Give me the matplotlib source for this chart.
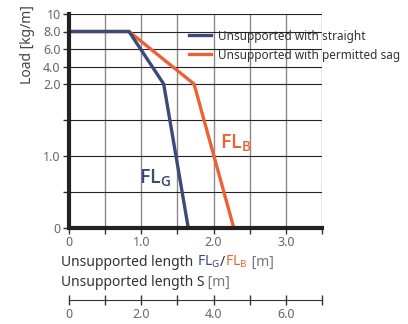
import numpy as np
import matplotlib.pyplot as plt
from matplotlib.offsetbox import TextArea, HPacker, AnchoredOffsetbox

plt.rcParams['font.family'] = ['Noto Sans', 'DejaVu Sans']

# curve data
fl_g_x = [0, 0.83, 1.31, 1.65]
fl_g_y = [8.0, 8.0, 2.0, 0]
fl_b_x = [0, 0.83, 1.73, 2.28]
fl_b_y = [8.0, 8.0, 2.0, 0]

y_ticks = [0, 0.5, 1.0, 1.5, 2.0, 4.0, 6.0, 8.0, 10]
y_labels = ['0', '', '1.0', '', '2.0', '4.0', '6.0', '8.0', '10']
x_ticks = [0, 0.5, 1.0, 1.5, 2.0, 2.5, 3.0, 3.5]
x_labels = ['0', '', '1.0', '', '2.0', '', '3.0', '']
s_ticks = [0, 1, 2, 3, 4, 5, 6, 7]
s_labels = ['0', '', '2.0', '', '4.0', '', '6.0', '']

blue = '#3b4a78'
orange = '#ec6234'
dark = '#333333'
grey = '#666666'

# piecewise y scale: 0-2 linear, above 2 compressed
k = 8.75 / 72


def fwd(y):
    y = np.asarray(y, dtype=float)
    return np.where(y <= 2, y, 2 + (y - 2) * k)


def inv(v):
    v = np.asarray(v, dtype=float)
    return np.where(v <= 2, v, 2 + (v - 2) / k)


fig = plt.figure(figsize=(4.08, 3.24), dpi=100)
ax = fig.add_axes([69/408, 1 - 228/324, (322 - 69)/408, (228 - 14)/324])
ax.set_yscale('function', functions=(fwd, inv))
ax.set_xlim(0, 3.5)
ax.set_ylim(0, 10)

# grid
for x in x_ticks[1:]:
    ax.axvline(x, color='#8a8a8a', lw=1.0, zorder=1)
for y in y_ticks[1:]:
    ax.axhline(y, color='#222222', lw=0.8, zorder=1)

ax.plot(fl_b_x, fl_b_y, color=orange, lw=2.4, zorder=3, solid_joinstyle='miter',
        label='Unsupported with permitted sag')
ax.plot(fl_g_x, fl_g_y, color=blue, lw=2.4, zorder=4, solid_joinstyle='miter',
        label='Unsupported with straight')

for s in ['top', 'right']:
    ax.spines[s].set_visible(False)
for s in ['left', 'bottom']:
    ax.spines[s].set_linewidth(3)
    ax.spines[s].set_color('#222222')
    ax.spines[s].set_zorder(5)

ax.set_yticks(y_ticks)
ax.set_yticklabels(y_labels)
ax.set_xticks(x_ticks)
ax.set_xticklabels(x_labels)
ax.tick_params(axis='both', colors='#333333', labelcolor=grey, labelsize=9,
               length=4, width=1, pad=2)
ax.yaxis.set_minor_locator(plt.NullLocator())

ax.set_ylabel('Load [kg/m]', color='#444444', fontsize=10)
ax.yaxis.set_label_coords(-0.135, 0.855)

fl_font = dict(fontsize=14, fontweight='semibold', family=['Open Sans', 'DejaVu Sans'])
ax.text(0.97, 0.62, r'FL$_\mathregular{G}$', color=blue, **fl_font)
ax.text(2.09, 1.1, r'FL$_\mathregular{B}$', color=orange, **fl_font)

h, l = ax.get_legend_handles_labels()
ax.legend(h[::-1], l[::-1], loc='upper left', bbox_to_anchor=(178/408, 1 - 19/324),
          bbox_transform=fig.transFigure, frameon=False, fontsize=8.5,
          handlelength=1.9, handletextpad=0.55, labelspacing=0.5, labelcolor=dark)

# x label with coloured parts
parts = [('Unsupported length ', dark), (r'FL$_\mathregular{G}$', blue), ('/', dark),
         (r'FL$_\mathregular{B}$', orange), (' [m]', '#777777')]
boxes = [TextArea(t, textprops=dict(color=c, fontsize=10,
                                    fontweight='bold' if 'FL' in t else 'normal'))
         for t, c in parts]
pack = HPacker(children=boxes, align='baseline', pad=0, sep=0)
anc = AnchoredOffsetbox(loc='lower left', child=pack, pad=0, frameon=False,
                        bbox_to_anchor=(61/408, 1 - 270/324), bbox_transform=fig.transFigure,
                        borderpad=0)
fig.add_artist(anc)

pack2 = HPacker(children=[TextArea('Unsupported length S', textprops=dict(color=dark, fontsize=10)),
                          TextArea(' [m]', textprops=dict(color='#777777', fontsize=10))],
                align='baseline', pad=0, sep=0)
anc2 = AnchoredOffsetbox(loc='lower left', child=pack2, pad=0, frameon=False,
                         bbox_to_anchor=(61/408, 1 - 290/324), bbox_transform=fig.transFigure,
                         borderpad=0)
fig.add_artist(anc2)

# second scale (S)
ax2 = fig.add_axes([69/408, 1 - 300/324, (322 - 69)/408, 0.001])
ax2.set_xlim(0, 7)
ax2.set_yticks([])
for s in ['top', 'right', 'left']:
    ax2.spines[s].set_visible(False)
ax2.spines['bottom'].set_color('#333333')
ax2.patch.set_visible(False)
ax2.set_xticks(s_ticks)
ax2.set_xticklabels(s_labels)
ax2.tick_params(axis='x', direction='inout', length=7, width=1, colors='#333333',
                labelcolor=grey, labelsize=9, pad=2)

fig.savefig('out.png', dpi=100)
